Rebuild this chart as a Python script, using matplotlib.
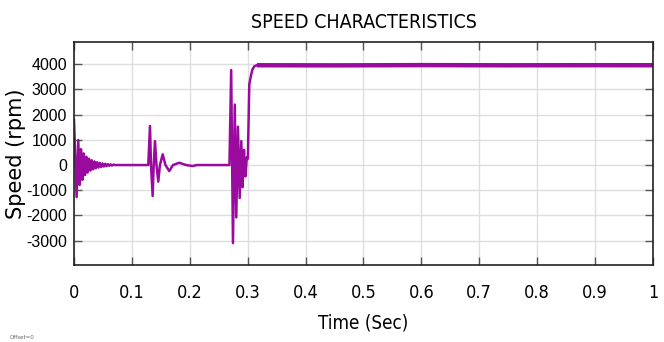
import matplotlib.pyplot as plt

# time (s) and speed (rpm)
t_pts = [0.0, 0.0046, 0.0074, 0.0098, 0.0121, 0.0144, 0.0167, 0.019, 0.0213, 0.0236,
         0.026, 0.0283, 0.0306, 0.033, 0.0353, 0.0376, 0.04, 0.0423, 0.0446, 0.047,
         0.0493, 0.0516, 0.054, 0.0563, 0.0586, 0.061, 0.0633, 0.0656, 0.068, 0.071,
         0.1283, 0.1313, 0.1330, 0.1359, 0.1377, 0.1399, 0.1425, 0.1456, 0.1485,
         0.1532, 0.1580, 0.1646, 0.1710, 0.1819, 0.1934, 0.2050, 0.2124,
         0.2685, 0.2715, 0.2746, 0.2777, 0.2803, 0.2832, 0.2862, 0.2890, 0.2912,
         0.2936, 0.2962, 0.2985, 0.3003, 0.3028, 0.3052, 0.308, 0.3115, 0.316]
speed_pts = [1790, -1270, 990, -790, 630, -590, 460, -400, 330, -300,
             250, -220, 190, -170, 140, -130, 110, -100, 85, -80,
             65, -60, 50, -45, 35, -30, 25, -20, 15, 0,
             0, 1550, 0, -1230, 0, 950, 0, -660, 0,
             425, 0, -240, 0, 90, 0, -40, 0,
             0, 3770, -3100, 2400, -2080, 1520, -1310, 950, -880,
             600, -450, 300, 250, 3200, 3500, 3780, 3920, 3960]
t_flat = [0.316, 0.45, 0.6, 0.75, 0.9, 1.0]
speed_flat = [3960, 3955, 3965, 3958, 3962, 3960]

xticks = [0, 0.1, 0.2, 0.3, 0.4, 0.5, 0.6, 0.7, 0.8, 0.9, 1]
xticklabels = ['0', '0.1', '0.2', '0.3', '0.4', '0.5', '0.6', '0.7', '0.8', '0.9', '1']
yticks = [-3000, -2000, -1000, 0, 1000, 2000, 3000, 4000]

arial = ['Liberation Sans', 'DejaVu Sans']
col = '#9a0a9e'

fig = plt.figure(figsize=(6.64, 3.42), dpi=100)
ax = fig.add_axes([0.1114, 0.225, 0.872, 0.652])
ax.plot(t_pts, speed_pts, color=col, lw=1.8)
ax.plot(t_flat, speed_flat, color=col, lw=3.2, solid_capstyle='butt')

ax.set_xlim(0, 1)
ax.set_ylim(-3970, 4880)
ax.set_xticks(xticks)
ax.set_xticklabels(xticklabels, family='DejaVu Sans', stretch='condensed', fontsize=13)
ax.set_yticks(yticks)
ax.set_yticklabels([str(v) for v in yticks], family=arial, fontsize=11.5)
ax.grid(True, color='#dedede', lw=1)
ax.tick_params(direction='in', top=True, right=True, length=6, width=1,
               color='#555555')
ax.tick_params(axis='x', pad=14)
ax.tick_params(axis='y', pad=5)
for s in ax.spines.values():
    s.set_linewidth(1.2)
    s.set_color('#222222')

ax.set_title('SPEED CHARACTERISTICS', family='DejaVu Sans', stretch='condensed',
             fontsize=14, pad=10)
ax.set_xlabel('Time (Sec)', family='DejaVu Sans', stretch='condensed',
              fontsize=13.5, labelpad=8)
ax.set_ylabel('Speed (rpm)', family='DejaVu Sans', fontsize=15)
ax.yaxis.set_label_coords(-0.083, 0.5)
fig.text(0.015, 0.008, 'Offset=0', fontsize=4, color='#666666')

fig.savefig('out.png', dpi=100)
